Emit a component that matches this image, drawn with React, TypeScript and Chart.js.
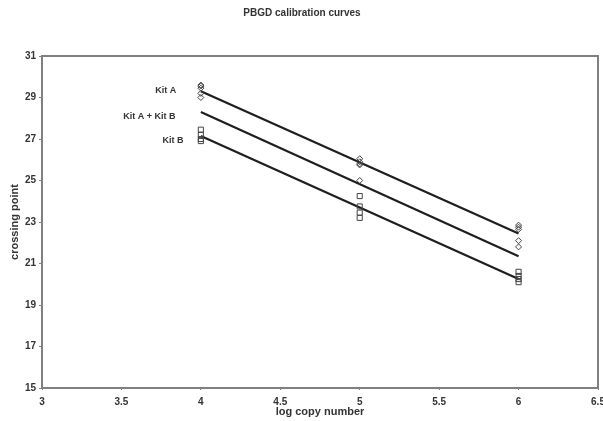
import React, { useEffect, useRef } from "react";
import { Chart, registerables } from "chart.js";

Chart.register(...registerables);

const titleText = "PBGD calibration curves";
const xTitle = "log copy number";
const yTitle = "crossing point";

const kitAX = [4, 4, 4, 4, 4, 5, 5, 5, 5, 5, 6, 6, 6, 6, 6];
const kitAY = [29.6, 29.55, 29.45, 29.2, 29.0, 26.05, 25.9, 25.8, 25.75, 25.0, 22.85, 22.75, 22.65, 22.1, 21.8];
const kitBX = [4, 4, 4, 4, 5, 5, 5, 5, 6, 6, 6, 6];
const kitBY = [27.45, 27.2, 27.0, 26.9, 24.25, 23.75, 23.45, 23.2, 20.6, 20.4, 20.25, 20.1];

const fitX = [4, 6];
const fitA = [29.3, 22.45];
const fitAB = [28.3, 21.35];
const fitB = [27.15, 20.25];

const labelTexts = ["Kit A", "Kit A + Kit B", "Kit B"];
const labelX = [3.845, 3.84, 3.89];
const labelY = [29.36, 28.06, 26.95];

const xMin = 3, xMax = 6.5, xStep = 0.5;
const yMin = 15, yMax = 31, yStep = 2;

const FONT = "'Liberation Sans', Arial, sans-serif";
const TXT = "#333333";
const AXIS = "#808080";

export default function App() {
  const ref = useRef<HTMLCanvasElement | null>(null);
  useEffect(() => {
    if (!ref.current) return;
    const toPts = (xs: number[], ys: number[]) => xs.map((x, i) => ({ x, y: ys[i] }));
    const decor = {
      id: "decor",
      afterDraw(chart: any) {
        const { ctx, chartArea, scales } = chart;
        ctx.save();
        ctx.strokeStyle = AXIS;
        ctx.lineWidth = 2;
        ctx.strokeRect(chartArea.left, chartArea.top, chartArea.right - chartArea.left, chartArea.bottom - chartArea.top);
        ctx.fillStyle = TXT;
        ctx.font = `bold 10px ${FONT}`;
        ctx.textAlign = "center";
        ctx.textBaseline = "middle";
        ctx.fillText(titleText, 302, 13);
        ctx.font = `bold 11px ${FONT}`;
        ctx.fillText(xTitle, (chartArea.left + chartArea.right) / 2, 412);
        ctx.save();
        ctx.translate(15, (chartArea.top + chartArea.bottom) / 2);
        ctx.rotate(-Math.PI / 2);
        ctx.fillText(yTitle, 0, 0);
        ctx.restore();
        ctx.font = `bold 9px ${FONT}`;
        ctx.textAlign = "right";
        labelTexts.forEach((t, i) => {
          ctx.fillText(t, scales.x.getPixelForValue(labelX[i]), scales.y.getPixelForValue(labelY[i]));
        });
        ctx.restore();
      },
    };
    const chart = new Chart(ref.current, {
      type: "scatter",
      data: {
        datasets: [
          {
            label: "Kit A",
            data: toPts(kitAX, kitAY),
            pointStyle: "rectRot",
            pointRadius: 3,
            borderColor: "#444",
            backgroundColor: "rgba(255,255,255,0)",
            borderWidth: 1,
          },
          {
            label: "Kit B",
            data: toPts(kitBX, kitBY),
            pointStyle: "rect",
            pointRadius: 3.6,
            borderColor: "#444",
            backgroundColor: "rgba(255,255,255,0)",
            borderWidth: 1,
          },
          {
            label: "fit A",
            type: "line",
            data: toPts(fitX, fitA),
            borderColor: "#1e1e1e",
            borderWidth: 2.2,
            pointRadius: 0,
            showLine: true,
          },
          {
            label: "fit AB",
            type: "line",
            data: toPts(fitX, fitAB),
            borderColor: "#1e1e1e",
            borderWidth: 2.2,
            pointRadius: 0,
            showLine: true,
          },
          {
            label: "fit B",
            type: "line",
            data: toPts(fitX, fitB),
            borderColor: "#1e1e1e",
            borderWidth: 2.2,
            pointRadius: 0,
            showLine: true,
          },
        ],
      } as any,
      options: {
        animation: false,
        responsive: false,
        maintainAspectRatio: false,
        layout: { padding: { top: 56, right: 4, left: 0, bottom: 0 } },
        plugins: { legend: { display: false }, title: { display: false }, tooltip: { enabled: false } },
        scales: {
          x: {
            type: "linear",
            min: xMin,
            max: xMax,
            ticks: {
              stepSize: xStep,
              color: TXT,
              font: { family: FONT, size: 10, weight: "bold" },
              padding: 6,
              maxRotation: 0,
              callback: (v: any) => String(v),
            },
            grid: { display: true, drawOnChartArea: false, drawTicks: true, tickLength: 2, color: AXIS, lineWidth: 1 },
            border: { display: true, color: AXIS, width: 2 },
            afterFit: (s: any) => {
              s.height = 33;
              s.paddingLeft = 0;
              s.paddingRight = 0;
            },
          },
          y: {
            type: "linear",
            min: yMin,
            max: yMax,
            ticks: {
              stepSize: yStep,
              color: TXT,
              font: { family: FONT, size: 10, weight: "bold" },
              padding: 3,
            },
            grid: { display: true, drawOnChartArea: false, drawTicks: true, tickLength: 3, color: AXIS, lineWidth: 1 },
            border: { display: true, color: AXIS, width: 2 },
            afterFit: (s: any) => {
              s.width = 42;
              s.paddingTop = 0;
              s.paddingBottom = 0;
            },
          },
        },
      } as any,
      plugins: [decor],
    });
    return () => chart.destroy();
  }, []);
  return (
    <div style={{ position: "fixed", left: 0, top: 0, width: 603, height: 421, background: "#fff" }}>
      <canvas ref={ref} width={603} height={421} style={{ width: 603, height: 421 }} />
    </div>
  );
}
